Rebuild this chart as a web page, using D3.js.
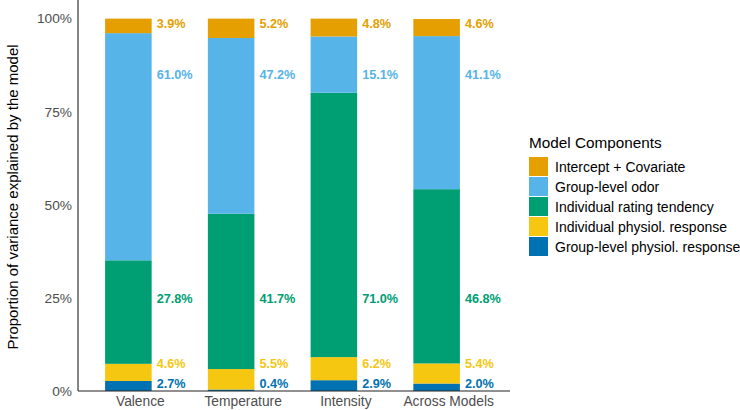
<!DOCTYPE html>
<html>
<head>
<meta charset="utf-8">
<script src="https://cdn.jsdelivr.net/npm/d3@7"></script>
<style>
  body { margin: 0; background: #fff; }
  svg { display: block; font-family: "Liberation Sans", Arial, sans-serif; }
</style>
</head>
<body>
<svg id="chart" width="740" height="410"></svg>
<script>
// categories on the x axis
const models = ["Valence", "Temperature", "Intensity", "Across Models"];

// components, bottom of stack first
const components = [
    "Group-level physiol. response",
    "Individual physiol. response",
    "Individual rating tendency",
    "Group-level odor",
    "Intercept + Covariate"
];
const colors = ["#0072B2", "#F5C710", "#009E73", "#56B4E9", "#E69F00"];

// share of variance (%) per component, one array per model
const valence = [2.7, 4.6, 27.8, 61.0, 3.9];
const temperature = [0.4, 5.5, 41.7, 47.2, 5.2];
const intensity = [2.9, 6.2, 71.0, 15.1, 4.8];
const acrossModels = [2.0, 5.4, 46.8, 41.1, 4.6];

// where the value labels sit (proportion units), per component
const labelY = [0.019, 0.073, 0.247, 0.849, 0.987];

const yTicks = [0, 0.25, 0.5, 0.75, 1];

const seriesByModel = [valence, temperature, intensity, acrossModels];
const rows = models.map((m, i) => {
    const row = { model: m };
    components.forEach((c, j) => row[c] = seriesByModel[i][j] / 100);
    return row;
});

const svg = d3.select("#chart");
const plotLeft = 78, plotRight = 510, plotTop = 0, plotBottom = 391;

const x = d3.scaleBand()
    .domain(models)
    .range([77, 488])
    .paddingInner(0.547)
    .paddingOuter(0.2735);

const y = d3.scaleLinear().domain([0, 1.05]).range([plotBottom, plotTop]);

const stacked = d3.stack().keys(components)(rows);

// bars
svg.append("g")
    .selectAll("g")
    .data(stacked)
    .join("g")
    .attr("fill", (d, i) => colors[i])
    .selectAll("rect")
    .data(d => d)
    .join("rect")
    .attr("x", d => x(d.data.model))
    .attr("width", x.bandwidth())
    .attr("y", d => y(d[1]))
    .attr("height", d => y(d[0]) - y(d[1]));

// value labels
svg.append("g")
    .selectAll("g")
    .data(components)
    .join("g")
    .attr("fill", (d, i) => colors[i])
    .selectAll("text")
    .data((c, j) => models.map((m, i) => ({ m, v: seriesByModel[i][j], ly: labelY[j] })))
    .join("text")
    .attr("x", d => x(d.m) + x.bandwidth() + 5)
    .attr("y", d => y(d.ly))
    .attr("dy", "0.35em")
    .style("font-size", "12.7px")
    .style("font-weight", "bold")
    .text(d => d.v.toFixed(1) + "%");

// axes
svg.append("line")
    .attr("x1", plotLeft).attr("x2", plotLeft)
    .attr("y1", plotTop).attr("y2", plotBottom)
    .attr("stroke", "#222").attr("stroke-width", 1.1);
svg.append("line")
    .attr("x1", plotLeft).attr("x2", plotRight)
    .attr("y1", plotBottom).attr("y2", plotBottom)
    .attr("stroke", "#222").attr("stroke-width", 1.1);

svg.append("g")
    .selectAll("text")
    .data(yTicks)
    .join("text")
    .attr("x", plotLeft - 6)
    .attr("y", d => y(d))
    .attr("dy", "0.35em")
    .attr("text-anchor", "end")
    .attr("fill", "#4d4d4d")
    .style("font-size", "13.7px")
    .text(d3.format(".0%"));

// category labels sit a little right of the bar centre, as in the original
svg.append("g")
    .selectAll("text")
    .data(models)
    .join("text")
    .attr("x", d => x(d) + x.bandwidth() / 2 + 12)
    .attr("y", 406)
    .attr("text-anchor", "middle")
    .attr("fill", "#4d4d4d")
    .style("font-size", "13.8px")
    .text(d => d);

svg.append("text")
    .attr("transform", "translate(18,197) rotate(-90)")
    .attr("text-anchor", "middle")
    .attr("fill", "#000")
    .style("font-size", "15px")
    .text("Proportion of variance explained by the model");

// legend, top entry is the top of the stack
const legend = svg.append("g").attr("transform", "translate(529,0)");
legend.append("text")
    .attr("x", 0).attr("y", 148)
    .style("font-size", "15.3px")
    .text("Model Components");

const legendItems = components.map((c, i) => ({ c, col: colors[i] })).reverse();
const li = legend.selectAll("g.item")
    .data(legendItems)
    .join("g")
    .attr("class", "item")
    .attr("transform", (d, i) => `translate(0,${157 + i * 20})`);
li.append("rect")
    .attr("width", 19).attr("height", 19)
    .attr("fill", d => d.col);
li.append("text")
    .attr("x", 26).attr("y", 10)
    .attr("dy", "0.35em")
    .style("font-size", "14px")
    .text(d => d.c);
</script>
</body>
</html>
